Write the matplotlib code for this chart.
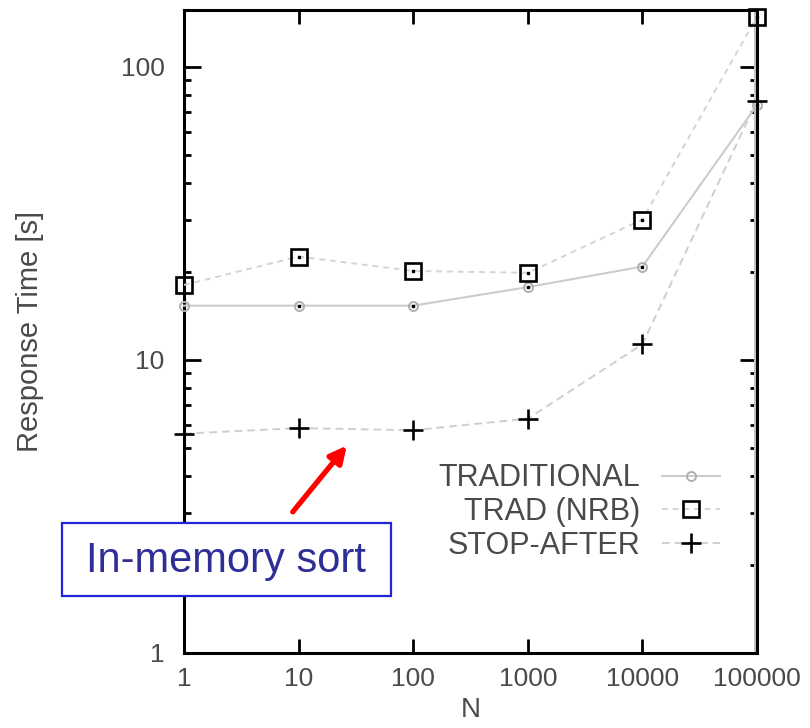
import matplotlib
matplotlib.use("Agg")
import matplotlib.pyplot as plt
import matplotlib.patches as mpatches
import matplotlib.patheffects as pe
from matplotlib.ticker import LogLocator, NullFormatter, FixedLocator

n_values = [1, 10, 100, 1000, 10000, 100000]
n_labels = ["1", "10", "100", "1000", "10000", "100000"]
traditional = [15.3, 15.3, 15.3, 17.7, 20.8, 74]
trad_nrb = [18.0, 22.5, 20.1, 19.8, 30.1, 148]
stop_after = [5.6, 5.85, 5.75, 6.3, 11.3, 76.5]

plt.rcParams['font.family'] = ['Liberation Sans', 'DejaVu Sans']
GREY_TEXT = '#4a4a4a'

fig = plt.figure(figsize=(8.1, 7.28), dpi=100)
ax = fig.add_axes([184 / 810, 1 - 653 / 728, 573 / 810, 643 / 728])

ax.set_xscale('log')
ax.set_yscale('log')
ax.set_xlim(1, 1e5)
ax.set_ylim(1, 156)

ax.plot(n_values, traditional, color='#cccccc', lw=1.5, ls='-',
        marker='o', ms=6.5, mfc='none', mec='#b0b0b0', mew=1.4,
        label='TRADITIONAL', clip_on=False, zorder=3)
ax.plot(n_values, trad_nrb, color='#d4d4d4', lw=1.4, ls=(0, (3, 2.5)),
        marker='s', ms=11, mfc='none', mec='black', mew=1.9,
        label='TRAD (NRB)', clip_on=False, zorder=4)
ax.plot(n_values, stop_after, color='#cfcfcf', lw=1.4, ls=(0, (4, 2.5)),
        marker='+', ms=14, mec='black', mew=1.9,
        label='STOP-AFTER', clip_on=False, zorder=5)
# centre dots of the gnuplot-style point symbols
ax.plot(n_values[1:], traditional[1:], ls='none', marker='s', ms=1.8,
        color='black', zorder=6, clip_on=False)
ax.plot(n_values[1:], trad_nrb[1:], ls='none', marker='s', ms=1.8,
        color='black', zorder=6, clip_on=False)

for side in ['left', 'right', 'top', 'bottom']:
    ax.spines[side].set_linewidth(2.2)
ax.spines['right'].set_path_effects([
    pe.SimpleLineShadow(offset=(-1.8, 0), shadow_color='#c4c4c4', alpha=1.0),
    pe.Normal()])

ax.set_xticks(n_values, n_labels)
ax.xaxis.set_minor_locator(FixedLocator([]))
ax.set_yticks([1, 10, 100], ['1', '10', '100'])
ax.yaxis.set_minor_locator(LogLocator(base=10, subs=range(2, 10), numticks=20))
ax.yaxis.set_minor_formatter(NullFormatter())

ax.tick_params(which='both', direction='in', top=True, right=True,
               width=2.0, colors='black', labelcolor=GREY_TEXT, labelsize=19)
ax.tick_params(axis='x', which='major', length=10, pad=10)
ax.tick_params(axis='y', which='major', length=12, pad=14)
ax.tick_params(axis='y', which='minor', length=5)

ax.set_xlabel('N', fontsize=20, color=GREY_TEXT, va='top')
ax.xaxis.set_label_coords(0.5, -0.068)
ax.set_ylabel('Response Time [s]', fontsize=21, color=GREY_TEXT)
ax.yaxis.set_label_coords(-0.245, 0.5)

leg = ax.legend(loc='upper right', bbox_to_anchor=(0.935, 0.295),
                frameon=False, markerfirst=False, fontsize=22,
                handlelength=1.9, handletextpad=0.7, labelspacing=0.12,
                borderpad=0, borderaxespad=0)
for t in leg.get_texts():
    t.set_color(GREY_TEXT)

# callout box and arrow
ax.annotate('', xy=(26.4, 5.1), xytext=(8.9, 3.03),
            arrowprops=dict(arrowstyle='-|>,head_width=0.5,head_length=1.0',
                            color='#ff0000', lw=3.8, shrinkA=0, shrinkB=0))
box = mpatches.Rectangle((62 / 810, 1 - 596 / 728), 329 / 810, 73 / 728,
                         transform=fig.transFigure, facecolor='white',
                         edgecolor='#2424d8', lw=1.6, zorder=10)
fig.patches.append(box)
fig.text(226 / 810, 1 - 561 / 728, 'In-memory sort', fontsize=30,
         color='#2e2e96', ha='center', va='center', zorder=11)

fig.savefig('out.png', dpi=100)
